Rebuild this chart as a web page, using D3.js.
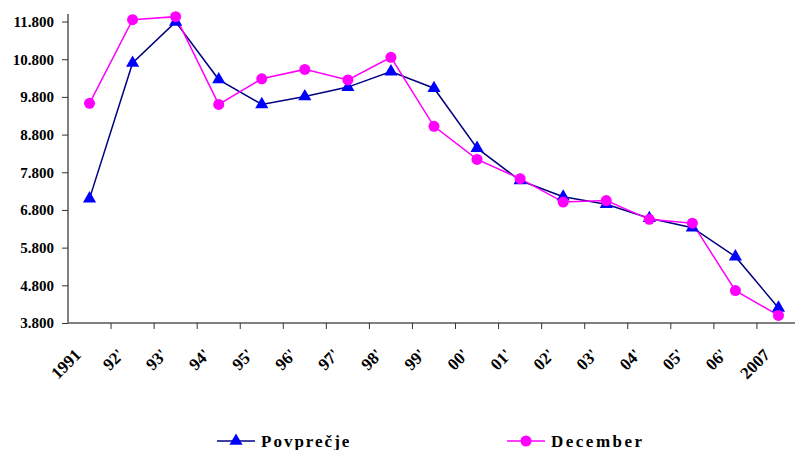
<!DOCTYPE html>
<html>
<head>
<meta charset="utf-8">
<script src="https://cdn.jsdelivr.net/npm/d3@7/dist/d3.min.js"></script>
<style>
  html, body { margin: 0; padding: 0; background: #fff; }
  svg { display: block; }
  text { font-family: "Liberation Serif", "Times New Roman", serif; font-weight: bold; fill: #000; }
</style>
</head>
<body>
<svg id="chart" width="795" height="450"></svg>
<script>
const categories = ["1991","92'","93'","94'","95'","96'","97'","98'","99'","00'","01'","02'","03'","04'","05'","06'","2007"];
const povprecje = [7100, 10700, 11790, 10260, 9600, 9810, 10060, 10470, 10030, 8440, 7580, 7150, 6950, 6580, 6330, 5560, 4200];
const december  = [9630, 11850, 11930, 9600, 10280, 10530, 10250, 10850, 9020, 8140, 7630, 7010, 7050, 6550, 6450, 4660, 4000];
const yTicks = [3800, 4800, 5800, 6800, 7800, 8800, 9800, 10800, 11800];
const seriesNames = ["Povprečje", "December"];

const svg = d3.select("#chart");
const x = d3.scaleBand().domain(categories).range([68, 800]).padding(0);
const y = d3.scaleLinear().domain([3800, 12000]).range([323, 14]);
const fmt = v => d3.format(",")(v).replace(/,/g, ".");

// Y axis
const yAxis = svg.append("g").attr("transform", "translate(68,0)")
  .call(d3.axisLeft(y).tickValues(yTicks).tickFormat(fmt).tickSize(6).tickPadding(8));
yAxis.select(".domain").attr("stroke", "#808080").attr("stroke-width", 2).attr("d", `M0,${y(12000)}V${y(3800)}`);
yAxis.selectAll(".tick line").attr("stroke", "#333");
yAxis.selectAll(".tick text").style("font-size", "15px").attr("fill", "#000");

// X axis
const xAxis = svg.append("g").attr("transform", "translate(0,323)")
  .call(d3.axisBottom(x).tickSize(0).tickFormat(""));
xAxis.select(".domain").attr("stroke", "#808080").attr("stroke-width", 2).attr("d", "M68,0H800");
xAxis.selectAll(".tick").remove();
const bounds = categories.map(c => x(c)).concat([x.range()[1]]);
svg.append("g").selectAll("line").data(bounds.slice(1)).join("line")
  .attr("x1", d => d).attr("x2", d => d).attr("y1", 323).attr("y2", 329)
  .attr("stroke", "#333").attr("stroke-width", 1);

const cx = d => x(d) + x.bandwidth() / 2;
const lab = svg.append("g").attr("class", "xlabels").selectAll("g").data(categories).join("g")
  .attr("transform", d => "translate(" + (cx(d) - 7.5) + ",356) rotate(-45)");
lab.append("text")
  .attr("text-anchor", "end")
  .style("font-size", "17px").text(d => d);

// Series
const line = d3.line().x(d => cx(d.c)).y(d => y(d.v));
const povData = categories.map((c, i) => ({ c, v: povprecje[i] }));
const decData = categories.map((c, i) => ({ c, v: december[i] }));
const tri = d3.symbol().type(d3.symbolTriangle).size(75);

svg.append("path").datum(povData).attr("d", line).attr("fill", "none").attr("stroke", "#000080").attr("stroke-width", 1.5);
svg.append("path").datum(decData).attr("d", line).attr("fill", "none").attr("stroke", "#FF00FF").attr("stroke-width", 1.5);
svg.append("g").selectAll("path").data(povData).join("path")
  .attr("d", tri).attr("transform", d => `translate(${cx(d.c)},${y(d.v)})`).attr("fill", "#0000FF");
svg.append("g").selectAll("circle").data(decData).join("circle")
  .attr("cx", d => cx(d.c)).attr("cy", d => y(d.v)).attr("r", 5.5).attr("fill", "#FF00FF");

// Legend
const lg = svg.append("g");
lg.append("line").attr("x1", 217).attr("x2", 255).attr("y1", 441).attr("y2", 441).attr("stroke", "#000080").attr("stroke-width", 1.5);
lg.append("path").attr("d", tri).attr("transform", "translate(236,441)").attr("fill", "#0000FF");
lg.append("text").attr("x", 261).attr("y", 441).attr("dy", "0.35em").style("font-size", "17px").style("letter-spacing", "2px").text(seriesNames[0]);
lg.append("line").attr("x1", 507).attr("x2", 545).attr("y1", 441).attr("y2", 441).attr("stroke", "#FF00FF").attr("stroke-width", 1.5);
lg.append("circle").attr("cx", 526).attr("cy", 441).attr("r", 5.5).attr("fill", "#FF00FF");
lg.append("text").attr("x", 551).attr("y", 441).attr("dy", "0.35em").style("font-size", "17px").style("letter-spacing", "2.5px").text(seriesNames[1]);
</script>
</body>
</html>
